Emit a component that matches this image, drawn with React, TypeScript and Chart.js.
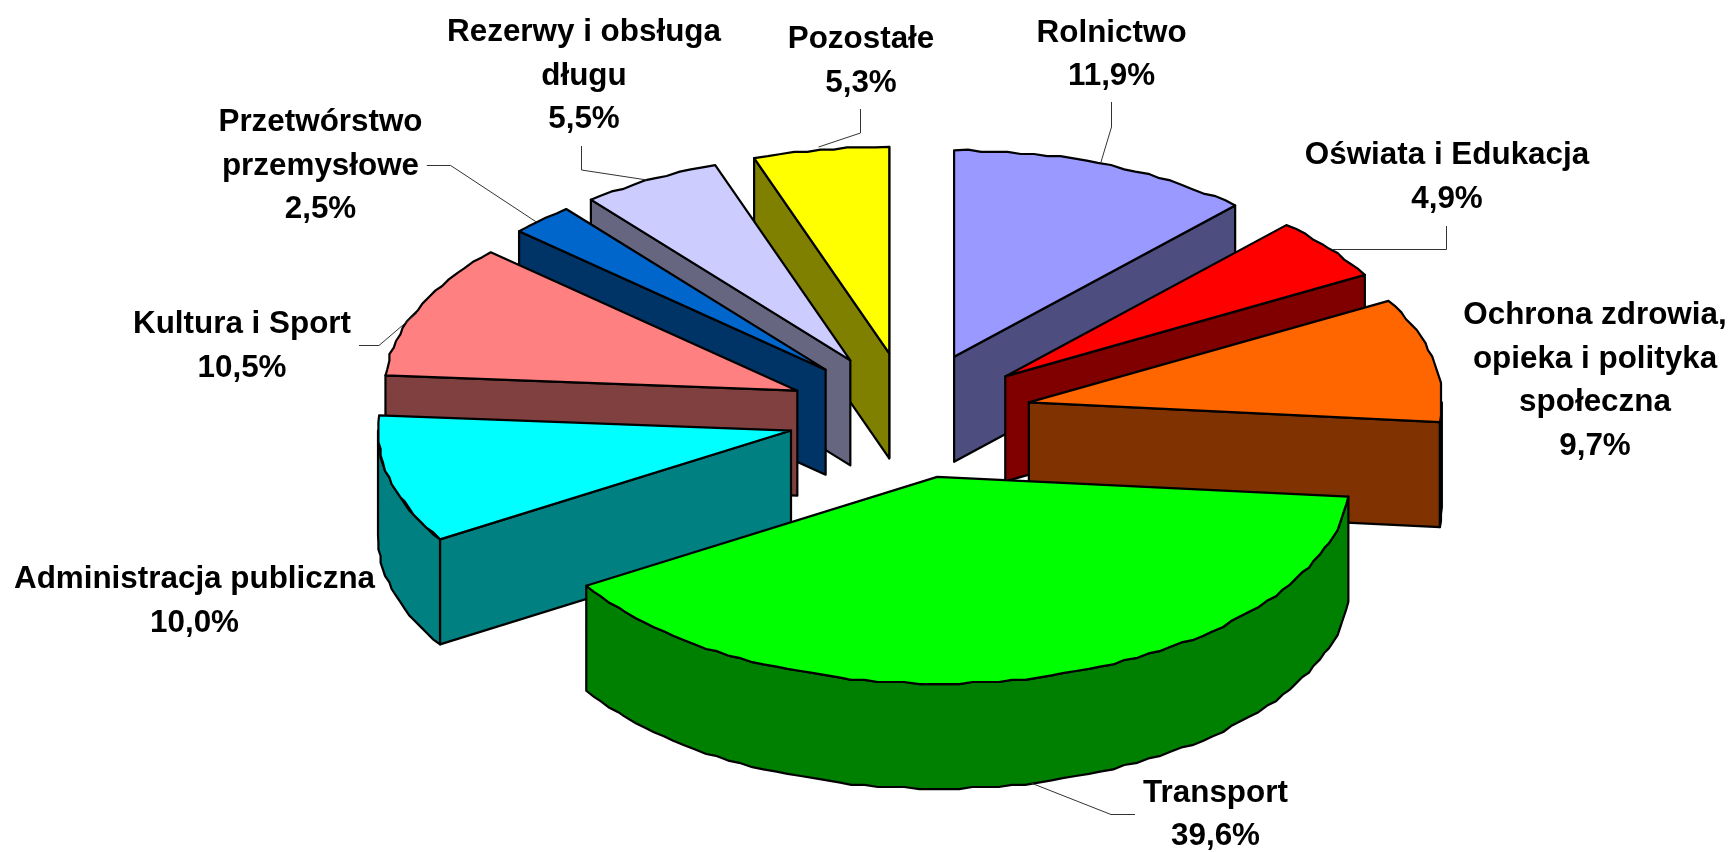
import React, { useEffect, useRef } from "react";
import { Chart, registerables } from "chart.js";

Chart.register(...registerables);

// ---- data ----
const categories = [
  "Rolnictwo",
  "Oświata i Edukacja",
  "Ochrona zdrowia, opieka i polityka społeczna",
  "Transport",
  "Administracja publiczna",
  "Kultura i Sport",
  "Przetwórstwo przemysłowe",
  "Rezerwy i obsługa długu",
  "Pozostałe",
];
const values = [11.9, 4.9, 9.7, 39.6, 10.0, 10.5, 2.5, 5.5, 5.3];
const colors = ["#9999FF", "#FF0000", "#FF6600", "#00FF00", "#00FFFF", "#FF8080", "#0066CC", "#CCCCFF", "#FFFF00"];

// ---- label text lines per slice ----
const labelLines = [
  ["Rolnictwo"],
  ["Oświata i Edukacja"],
  ["Ochrona zdrowia,", "opieka i polityka", "społeczna"],
  ["Transport"],
  ["Administracja publiczna"],
  ["Kultura i Sport"],
  ["Przetwórstwo", "przemysłowe"],
  ["Rezerwy i obsługa", "długu"],
  ["Pozostałe"],
];

// ---- layout (separate from data) ----
const labelCenterX = [1111.6, 1447, 1595, 1215.5, 194.5, 242, 320.5, 584, 861];
const labelFirstBaseline = [41.7, 164, 324, 801.7, 588, 333, 131, 41, 48];
const leaderPaths: number[][][] = [
  [[1111.5, 102], [1111.5, 127], [1100.7, 163]],
  [[1446.5, 226], [1446.5, 249.5], [1332, 249.5]],
  [],
  [[1135, 814.5], [1111, 814.5], [1031, 783]],
  [],
  [[359, 345.5], [379, 345.5], [417, 313]],
  [[426.8, 165.5], [450.7, 165.5], [536.4, 222]],
  [[581.5, 146], [581.5, 170], [647, 180]],
  [[860.5, 109], [860.5, 133], [818.6, 147]],
];

const TILT = 0.5;
const EXPLODE_TILT = 0.517;
const DEPTH = 105;
const LINE_HEIGHT = 43.7;
const FONT = 'bold 31.4px "Liberation Sans", Arial, sans-serif';
const EDGE_STEP = 10; // px of arc between outline samples
const EDGE_GRID = 2.2; // outline coordinates snap to this grid, as in the coarse original

function shade(hex: string): string {
  const n = parseInt(hex.slice(1), 16);
  const half = (v: number) => Math.round(v / 2);
  return `rgb(${half((n >> 16) & 255)},${half((n >> 8) & 255)},${half(n & 255)})`;
}

const snap = (v: number) => Math.round(v / EDGE_GRID) * EDGE_GRID;

const pie3d = {
  id: "pie3d",
  beforeDatasetsDraw(chart: any) {
    const ctx: CanvasRenderingContext2D = chart.ctx;
    const arcs = chart.getDatasetMeta(0).data.map((arc: any, i: number) => {
      const mid = (arc.startAngle + arc.endAngle) / 2;
      const offset = arc.options.offset;
      return {
        i,
        start: arc.startAngle,
        end: arc.endAngle,
        r: arc.outerRadius,
        ax: arc.x + Math.cos(mid) * offset,
        ay: arc.y + Math.sin(mid) * offset * EXPLODE_TILT,
        fill: arc.options.backgroundColor,
      };
    });
    arcs.sort((a: any, b: any) => a.ay - b.ay);

    ctx.save();
    ctx.lineJoin = "round";
    ctx.strokeStyle = "#000";
    ctx.lineWidth = 2.2;
    for (const s of arcs) {
      const px = (a: number) => s.ax + s.r * Math.cos(a);
      const py = (a: number) => s.ay + s.r * TILT * Math.sin(a);
      const wall = shade(s.fill);

      // outline of the rim from angle a0 to a1, dropped by dy
      const rim = (a0: number, a1: number, dy: number) => {
        const n = Math.max(2, Math.round((Math.abs(a1 - a0) * s.r * 0.75) / EDGE_STEP));
        for (let k = 1; k <= n; k++) {
          const a = a0 + ((a1 - a0) * k) / n;
          if (k === n) ctx.lineTo(px(a), py(a) + dy);
          else ctx.lineTo(snap(px(a)), snap(py(a)) + dy);
        }
      };

      const radialWall = (a: number) => {
        ctx.beginPath();
        ctx.moveTo(s.ax, s.ay);
        ctx.lineTo(px(a), py(a));
        ctx.lineTo(px(a), py(a) + DEPTH);
        ctx.lineTo(s.ax, s.ay + DEPTH);
        ctx.closePath();
        ctx.fillStyle = wall;
        ctx.fill();
        ctx.stroke();
      };
      if (Math.sin(s.end + Math.PI / 2) > 0) radialWall(s.end);
      if (Math.sin(s.start - Math.PI / 2) > 0) radialWall(s.start);

      const lo = Math.max(s.start, 0);
      const hi = Math.min(s.end, Math.PI);
      if (hi > lo) {
        ctx.beginPath();
        ctx.moveTo(px(lo), py(lo));
        rim(lo, hi, 0);
        ctx.lineTo(px(hi), py(hi) + DEPTH);
        rim(hi, lo, DEPTH);
        ctx.closePath();
        ctx.fillStyle = wall;
        ctx.fill();
        ctx.stroke();
      }

      ctx.beginPath();
      ctx.moveTo(s.ax, s.ay);
      ctx.lineTo(px(s.start), py(s.start));
      rim(s.start, s.end, 0);
      ctx.closePath();
      ctx.fillStyle = s.fill;
      ctx.fill();
      ctx.stroke();
    }

    // leader lines
    ctx.strokeStyle = "#333";
    ctx.lineWidth = 1;
    leaderPaths.forEach((path) => {
      if (!path.length) return;
      ctx.beginPath();
      path.forEach(([x, y], k) => (k ? ctx.lineTo(x, y) : ctx.moveTo(x, y)));
      ctx.stroke();
    });

    // labels
    ctx.fillStyle = "#000";
    ctx.font = FONT;
    ctx.textAlign = "center";
    ctx.textBaseline = "alphabetic";
    labelLines.forEach((lines, i) => {
      const pct = values[i].toFixed(1).replace(".", ",") + "%";
      [...lines, pct].forEach((t, k) => {
        ctx.fillText(t, labelCenterX[i], labelFirstBaseline[i] + k * LINE_HEIGHT);
      });
    });
    ctx.restore();
    return false;
  },
};

export default function App() {
  const ref = useRef<HTMLCanvasElement>(null);
  useEffect(() => {
    const chart = new Chart(ref.current!, {
      type: "pie",
      data: {
        labels: categories,
        datasets: [{ data: values, backgroundColor: colors, borderColor: "#000", borderWidth: 2, offset: 122 }],
      },
      options: {
        animation: false,
        responsive: false,
        radius: 413,
        rotation: 0,
        layout: { padding: { left: 86, bottom: 21 } },
        plugins: { legend: { display: false }, tooltip: { enabled: false } },
      } as any,
      plugins: [pie3d],
    });
    return () => chart.destroy();
  }, []);
  return (
    <canvas
      ref={ref}
      width={1733}
      height={852}
      style={{ position: "fixed", left: 0, top: 0, display: "block", background: "#fff" }}
    />
  );
}
